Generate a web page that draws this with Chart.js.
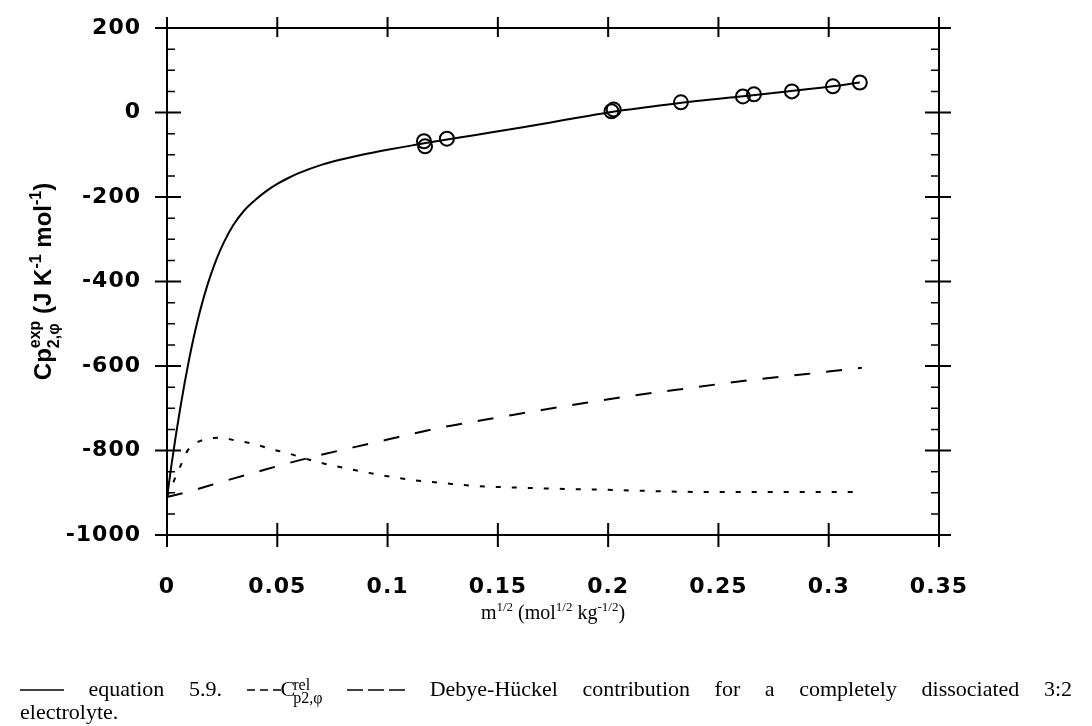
<!DOCTYPE html>
<html>
<head>
<meta charset="utf-8">
<script src="https://cdn.jsdelivr.net/npm/chart.js@4.4.1/dist/chart.umd.min.js"></script>
<style>
  html, body { margin: 0; padding: 0; background: #fff; }
  #wrap { position: relative; width: 1092px; height: 726px; overflow: hidden; }
  #chart { position: absolute; left: 0; top: 0; }
  .cap {
    position: absolute; left: 20px; width: 1052px;
    font: 22px "Liberation Serif", "Times New Roman", serif;
    line-height: 22px; color: #000; white-space: nowrap;
  }
  #cap1 { top: 678px; text-align: justify; text-align-last: justify; }
  #cap2 { top: 701px; }
  .cap svg { vertical-align: middle; }
  .ss { display: inline-block; vertical-align: middle; font-size: 16px; line-height: 13px; margin-left: -2px; }
  .ss span { display: block; }
</style>
</head>
<body>
<div id="wrap">
  <canvas id="chart" width="1092" height="726"></canvas>
  <div class="cap" id="cap1"><svg width="44" height="10"><line x1="0" y1="4" x2="44" y2="4" stroke="#000" stroke-width="1.5"/></svg> equation 5.9. <svg width="34" height="10"><line x1="0" y1="4" x2="34" y2="4" stroke="#000" stroke-width="1.5" stroke-dasharray="8 5"/></svg>C<span class="ss"><span>rel</span><span>p2,φ</span></span> <svg width="58" height="10"><line x1="0" y1="4" x2="58" y2="4" stroke="#000" stroke-width="1.5" stroke-dasharray="16 5"/></svg> Debye-Hückel contribution for a completely dissociated 3:2</div>
  <div class="cap" id="cap2">electrolyte.</div>
</div>
<script>
// experimental points
const expX = [0.1165, 0.1170, 0.1269, 0.2015, 0.2025, 0.2330, 0.2611, 0.2661, 0.2833, 0.3019, 0.3141];
const expY = [-68, -80, -62, 3, 7, 24, 38, 43, 50, 62, 71];

// equation 5.9 (solid)
const fitX = [0, 0.002, 0.004, 0.006, 0.008, 0.010, 0.012, 0.014, 0.016, 0.018, 0.020, 0.023, 0.026, 0.030,
  0.035, 0.040, 0.045, 0.050, 0.055, 0.060, 0.070, 0.080, 0.090, 0.100, 0.110, 0.120, 0.140, 0.160,
  0.180, 0.200, 0.220, 0.240, 0.260, 0.280, 0.300, 0.3141];
const fitY = [-912, -835, -765, -700, -640, -585, -535, -490, -450, -414, -382, -340, -305, -267,
  -232, -207, -186, -169, -155, -143, -124, -110, -98, -88, -79, -70, -53, -36,
  -18, 0, 14, 27, 38, 49, 61, 71];

// C rel p2,phi (dotted)
const relX = [0, 0.0027, 0.0059, 0.0095, 0.0163, 0.024, 0.0317, 0.039, 0.0467, 0.0544, 0.068, 0.083, 0.0966,
  0.1115, 0.1251, 0.140, 0.160, 0.180, 0.200, 0.220, 0.240, 0.280, 0.314];
const relY = [-910, -877, -839, -799, -775, -770, -777, -784, -796, -806, -827, -844, -858,
  -870, -877, -884, -888, -891, -893, -896, -898, -898, -898];

// Debye-Huckel contribution (long dash)
const dhX = [0, 0.010, 0.025, 0.040, 0.055, 0.070, 0.085, 0.100, 0.115, 0.130, 0.150, 0.170, 0.190,
  0.210, 0.230, 0.250, 0.270, 0.290, 0.315];
const dhY = [-910, -897, -874, -852, -830, -810, -792, -774, -756, -740, -722, -704, -687,
  -671, -657, -643, -630, -619, -604];

const xTickLabels = ["0", "0.05", "0.1", "0.15", "0.2", "0.25", "0.3", "0.35"];
const yTickLabels = ["-1000", "-800", "-600", "-400", "-200", "0", "200"];

function pts(xs, ys) {
  return xs.map((x, i) => ({ x: x, y: ys[i] }));
}

const tickFont = { family: '"DejaVu Sans", sans-serif', size: 22, weight: "bold" };
const sansBig = 'bold 24px "Liberation Sans", Arial, sans-serif';
const sansSmall = 'bold 16px "Liberation Sans", Arial, sans-serif';
const serifBig = '20px "Liberation Serif", "Times New Roman", serif';
const serifSmall = '13px "Liberation Serif", "Times New Roman", serif';

function runWidth(ctx, parts) {
  let w = 0;
  parts.forEach((p) => {
    ctx.font = p.font;
    const ws = [p.t, p.sub].filter(Boolean).map((s) => ctx.measureText(s).width);
    p.w = Math.max(...ws);
    w += p.w;
  });
  return w;
}

function drawRun(ctx, parts, cx, baseline) {
  let x = cx - runWidth(ctx, parts) / 2;
  ctx.textAlign = "left";
  ctx.textBaseline = "alphabetic";
  parts.forEach((p) => {
    ctx.font = p.font;
    if (p.t) ctx.fillText(p.t, x, baseline + (p.dy || 0));
    if (p.sub) ctx.fillText(p.sub, x, baseline + p.subDy);
    x += p.w;
  });
}

const spacing = {
  id: "spacing",
  beforeUpdate(chart) { chart.ctx.letterSpacing = "1px"; },
  beforeDraw(chart) { chart.ctx.letterSpacing = "1px"; }
};

const frameTicks = {
  id: "frameTicks",
  afterDraw(chart) {
    const { ctx, chartArea: a, scales: { x, y } } = chart;
    ctx.save();
    ctx.letterSpacing = "0px";
    ctx.strokeStyle = "#000";
    ctx.fillStyle = "#000";
    ctx.lineWidth = 2;
    ctx.strokeRect(a.left, a.top, a.right - a.left, a.bottom - a.top);

    ctx.beginPath();
    x.ticks.forEach((t) => {
      const px = x.getPixelForValue(t.value);
      ctx.moveTo(px, a.bottom - 12); ctx.lineTo(px, a.bottom + 12);
      ctx.moveTo(px, a.top - 11); ctx.lineTo(px, a.top + 9);
    });
    y.ticks.forEach((t) => {
      const py = y.getPixelForValue(t.value);
      ctx.moveTo(a.left - 12, py); ctx.lineTo(a.left + 14, py);
      ctx.moveTo(a.right - 14, py); ctx.lineTo(a.right + 12, py);
    });
    ctx.stroke();

    // minor ticks on y every 50
    ctx.lineWidth = 1.5;
    ctx.beginPath();
    for (let v = y.min + 50; v < y.max; v += 50) {
      if (v % 200 === 0) continue;
      const py = y.getPixelForValue(v);
      ctx.moveTo(a.left, py); ctx.lineTo(a.left + 8, py);
      ctx.moveTo(a.right - 8, py); ctx.lineTo(a.right, py);
    }
    ctx.stroke();

    // x title
    drawRun(ctx, [
      { t: "m", font: serifBig },
      { t: "1/2", dy: -8, font: serifSmall },
      { t: " (mol", font: serifBig },
      { t: "1/2", dy: -8, font: serifSmall },
      { t: " kg", font: serifBig },
      { t: "-1/2", dy: -8, font: serifSmall },
      { t: ")", font: serifBig }
    ], (a.left + a.right) / 2, 619);

    // y title
    ctx.translate(51, (a.top + a.bottom) / 2);
    ctx.rotate(-Math.PI / 2);
    drawRun(ctx, [
      { t: "Cp", font: sansBig },
      { t: "exp", dy: -11, sub: "2,φ", subDy: 8, font: sansSmall },
      { t: " (J K", font: sansBig },
      { t: "-1", dy: -10, font: sansSmall },
      { t: " mol", font: sansBig },
      { t: "-1", dy: -10, font: sansSmall },
      { t: ")", font: sansBig }
    ], 0, 0);
    ctx.restore();
  }
};

new Chart(document.getElementById("chart"), {
  type: "scatter",
  data: {
    datasets: [
      {
        label: "experimental",
        data: pts(expX, expY),
        showLine: false,
        pointStyle: "circle",
        pointRadius: 7,
        pointBorderWidth: 2,
        pointBorderColor: "#000",
        pointBackgroundColor: "rgba(0,0,0,0)"
      },
      {
        label: "equation 5.9",
        data: pts(fitX, fitY),
        showLine: true,
        borderColor: "#000",
        borderWidth: 2,
        pointRadius: 0,
        cubicInterpolationMode: "monotone"
      },
      {
        label: "Crel",
        data: pts(relX, relY),
        showLine: true,
        borderColor: "#000",
        borderWidth: 2,
        borderDash: [5, 11],
        pointRadius: 0,
        cubicInterpolationMode: "monotone"
      },
      {
        label: "Debye-Huckel",
        data: pts(dhX, dhY),
        showLine: true,
        borderColor: "#000",
        borderWidth: 2,
        borderDash: [16, 16],
        pointRadius: 0,
        cubicInterpolationMode: "monotone"
      }
    ]
  },
  options: {
    responsive: false,
    devicePixelRatio: 1,
    animation: false,
    events: [],
    layout: { padding: { top: 28, right: 153, bottom: 111, left: 0 } },
    plugins: {
      legend: { display: false },
      tooltip: { enabled: false }
    },
    scales: {
      x: {
        type: "linear",
        min: 0,
        max: 0.35,
        grid: { display: false, drawTicks: false },
        border: { display: false },
        ticks: {
          stepSize: 0.05,
          padding: 39,
          color: "#000",
          font: tickFont,
          callback: (v, i) => xTickLabels[i]
        },
        afterFit: (scale) => {
          scale.height = 80;
          scale.paddingLeft = 0;
          scale.paddingRight = 0;
        }
      },
      y: {
        type: "linear",
        min: -1000,
        max: 200,
        grid: { display: false, drawTicks: false },
        border: { display: false },
        ticks: {
          stepSize: 200,
          padding: 26,
          color: "#000",
          font: tickFont,
          callback: (v, i) => yTickLabels[i]
        },
        afterFit: (scale) => {
          scale.width = 167;
          scale.paddingTop = 0;
          scale.paddingBottom = 0;
        }
      }
    }
  },
  plugins: [spacing, frameTicks]
});
</script>
</body>
</html>
